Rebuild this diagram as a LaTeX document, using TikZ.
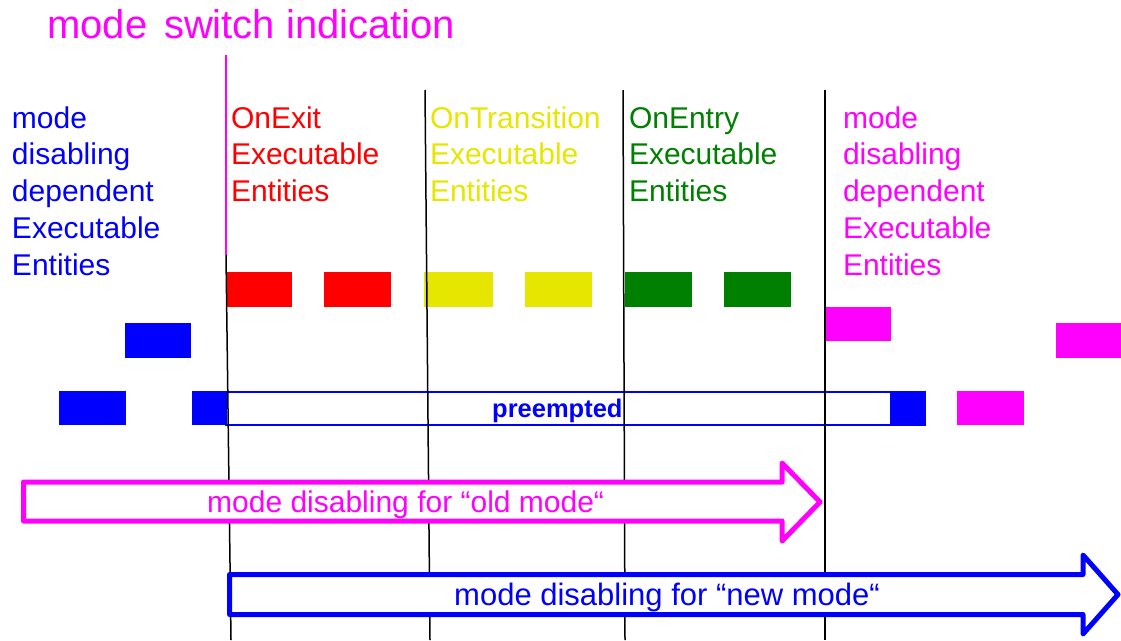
\documentclass[tikz,border=0pt]{standalone}
\usepackage{fontspec}
\setmainfont{Liberation Sans}
\definecolor{myyellow}{RGB}{230,230,0}
\definecolor{mygreen}{RGB}{0,128,0}
\definecolor{mymag}{RGB}{255,0,255}
\definecolor{myblue}{RGB}{0,0,255}
\begin{document}
\begin{tikzpicture}[x=1pt,y=-1pt,
  blk/.style={inner sep=0pt, outer sep=0pt, anchor=north west, minimum width=#1, minimum height=35pt},
  blk/.default=66pt,
  lbl/.style={anchor=base west, inner sep=0pt, outer sep=0pt, font=\fontsize{30}{36.8}\selectfont},
  vline/.style={draw=black, line width=1.5pt},
  bigarrow/.style={line width=5pt, line join=round, fill=white}]
\useasboundingbox (0,0) rectangle (1121,640);

% title
\node[anchor=base west, inner sep=0pt, text=mymag, font=\fontsize{40}{48}\selectfont] (title) at (47,38) {mode\hspace{0.42em}switch indication};

% column labels
\node[lbl, text=myblue] (lblold) at (12,128) {\parbox[t]{200pt}{mode\\disabling\\dependent\\Executable\\Entities}};
\node[lbl, text=red] (lblexit) at (231,128) {\parbox[t]{200pt}{OnExit\\Executable\\Entities}};
\node[lbl, text=myyellow] (lbltrans) at (430,128) {\parbox[t]{200pt}{OnTransition\\Executable\\Entities}};
\node[lbl, text=mygreen] (lblentry) at (629,128) {\parbox[t]{200pt}{OnEntry\\Executable\\Entities}};
\node[lbl, text=mymag] (lblnew) at (843,128) {\parbox[t]{200pt}{mode\\disabling\\dependent\\Executable\\Entities}};

% row 1 blocks
\node[blk=65pt, fill=red] (r1) at (227,272) {};
\node[blk=67pt, fill=red] (r2) at (324,272) {};
\node[blk=69pt, fill=myyellow] (y1) at (424,272) {};
\node[blk=67pt, fill=myyellow] (y2) at (525,272) {};
\node[blk=67pt, fill=mygreen] (g1) at (625,272) {};
\node[blk=67pt, fill=mygreen] (g2) at (724,272) {};

% row 2 blocks
\node[blk=66pt, fill=myblue] (b1) at (125,323) {};
\node[blk=67pt, fill=mymag, minimum height=34pt] (m1) at (824,307) {};
\node[blk=65pt, fill=mymag] (m2) at (1056,323) {};

% row 3 blocks
\node[blk=67pt, minimum height=34pt, fill=myblue] (b2) at (59,391) {};
\node[draw=myblue, line width=2pt, inner sep=0pt, outer sep=0pt, anchor=north west, minimum width=699pt, minimum height=32.5pt] (pre) at (226,392) {};
\node[blk=34pt, minimum height=34pt, fill=myblue] (b3) at (192,391) {};
\node[blk=35pt, minimum height=34pt, fill=myblue] (b4) at (890,391) {};
\node[blk=67pt, minimum height=34pt, fill=mymag] (m3) at (957,391) {};
\node[anchor=base west, inner sep=0pt, text=myblue, font=\fontsize{25.5}{30}\selectfont\bfseries] (pretxt) at (492,417) {preempted};

% vertical lines
\coordinate (s0) at (226,55);
\coordinate (s1) at (226,255);
\coordinate (v1b) at (231,640);
\coordinate (v2t) at (425,90);
\coordinate (v2b) at (430,640);
\coordinate (v3t) at (623,90);
\coordinate (v3b) at (625,640);
\coordinate (v4t) at (825,90);
\coordinate (v4b) at (825,640);
\draw[mymag, line width=2pt] (s0) -- (s1);
\draw[vline] (s1) -- (v1b);
\draw[vline] (v2t) -- (v2b);
\draw[vline] (v3t) -- (v3b);
\draw[vline] (v4t) -- (v4b);

% arrows
\draw[bigarrow, draw=mymag] (23.5,482) -- (782,482) -- (782,463) -- (820,502) -- (782,541) -- (782,521) -- (23.5,521) -- cycle;
\node[anchor=base west, inner sep=0pt, text=mymag, font=\fontsize{30}{36}\selectfont] (oldtxt) at (207,512) {mode disabling for “old mode“};

\draw[bigarrow, draw=myblue] (229.5,574.5) -- (1083,574.5) -- (1083,555) -- (1118,594.5) -- (1083,634) -- (1083,614.5) -- (229.5,614.5) -- cycle;
\node[anchor=base west, inner sep=0pt, text=myblue, font=\fontsize{31}{36}\selectfont] (newtxt) at (454,605) {mode disabling for “new mode“};
\end{tikzpicture}
\end{document}
